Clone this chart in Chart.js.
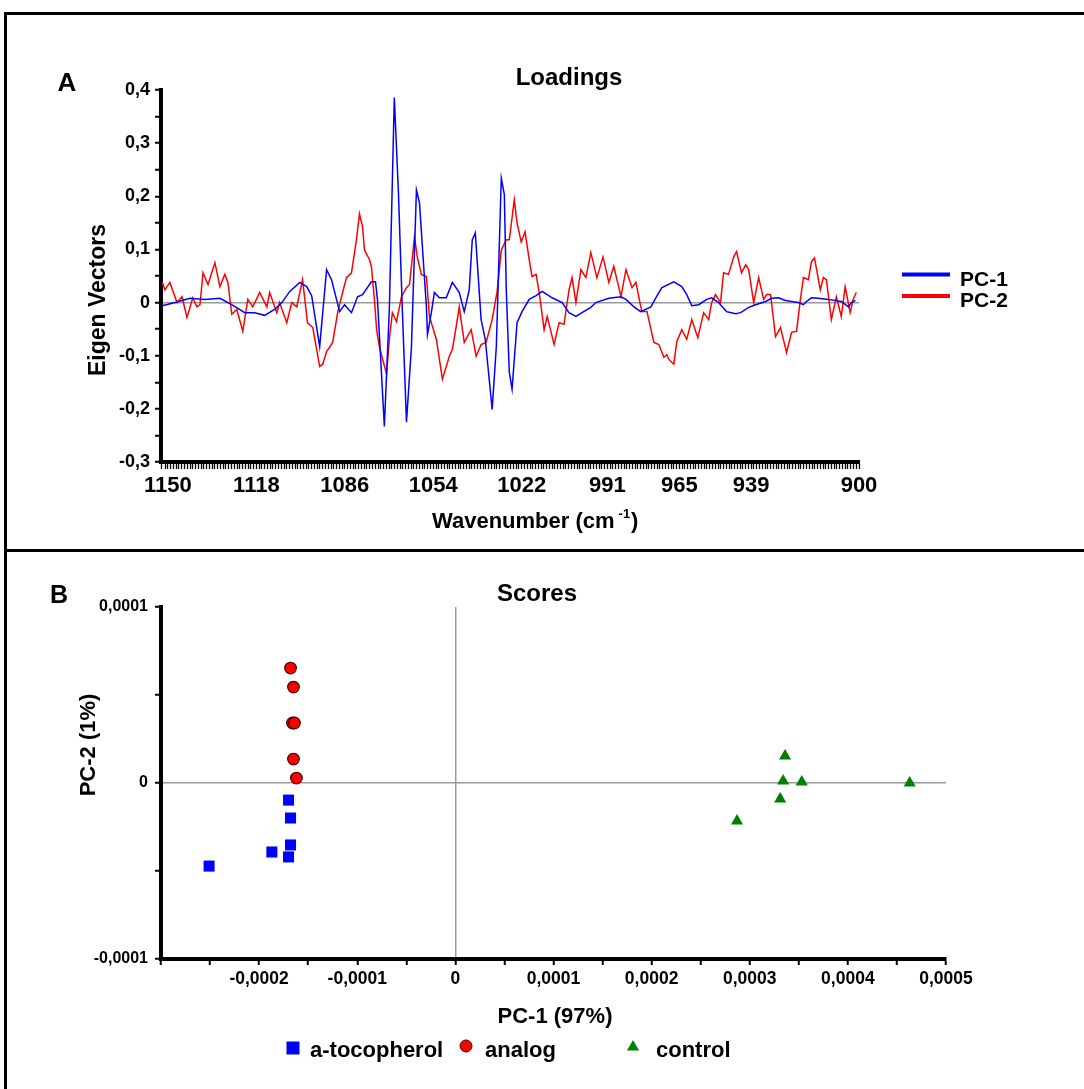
<!DOCTYPE html>
<html><head><meta charset="utf-8">
<script src="https://cdn.jsdelivr.net/npm/chart.js@4.4.1/dist/chart.umd.min.js"></script>
<style>
html,body{margin:0;padding:0;background:#fff;}
body{width:1084px;height:1089px;position:relative;overflow:hidden;}
canvas{position:absolute;left:0;top:0;}
.ln{position:absolute;background:#000;}
</style></head><body>
<canvas id="c1" width="1084" height="1089"></canvas>
<canvas id="c2" width="1084" height="1089"></canvas>
<div class="ln" style="left:4px;top:12px;width:1080px;height:3px"></div>
<div class="ln" style="left:4px;top:12px;width:3px;height:1077px"></div>
<div class="ln" style="left:4px;top:549px;width:1080px;height:3px"></div>
<script>
// ---------- Panel A: loadings ----------
const xTickLabels = [1150, 1118, 1086, 1054, 1022, 991, 965, 939, 900];
const pc1Wn = [1152.1,1147.4,1142.0,1136.6,1131.2,1126.9,1122.2,1118.6,1115.0,1111.4,1108.8,1105.9,1102.3,1099.8,1098.0,1095.1,1092.6,1090.8,1087.9,1086.1,1083.6,1081.4,1079.6,1076.4,1074.9,1074.2,1071.7,1069.9,1068.1,1066.6,1065.2,1063.7,1061.9,1060.1,1059.0,1056.5,1056.1,1054.7,1053.6,1051.8,1049.3,1047.1,1044.6,1042.8,1041.0,1039.9,1038.8,1036.7,1035.2,1032.7,1031.2,1029.4,1028.3,1027.6,1026.5,1025.5,1023.7,1021.9,1019.3,1016.8,1014.6,1011.0,1007.4,1004.9,1002.4,1000.2,997.0,995.2,990.5,986.1,984.3,981.4,979.0,975.3,973.5,971.3,967.0,964.1,962.3,960.5,958.0,955.1,953.3,950.8,947.9,944.6,942.8,939.9,937.4,933.8,931.6,929.1,926.6,924.4,921.9,920.1,919.0,917.2,914.7,911.1,906.4,903.8,902.8,901.3];
const pc1 = [-0.006,0,0.008,0.006,0.008,-0.004,-0.019,-0.019,-0.024,-0.013,0,0.021,0.038,0.030,0.013,-0.083,0.062,0.043,-0.017,-0.004,-0.019,0.011,0.015,0.039,0.039,0.006,-0.233,-0.013,0.386,0.206,-0.013,-0.225,-0.083,0.212,0.188,-0.008,-0.060,-0.019,0.019,0.009,0.009,0.038,0.019,-0.017,0.024,0.118,0.131,-0.032,-0.069,-0.201,-0.083,0.234,0.203,0.024,-0.131,-0.163,-0.038,-0.017,0.006,0.013,0.021,0.009,0,-0.019,-0.026,-0.019,-0.009,0,0.008,0.011,0.006,-0.008,-0.017,-0.008,0.009,0.028,0.039,0.030,0.015,-0.006,-0.004,0.006,0.009,0,-0.017,-0.021,-0.019,-0.009,-0.004,0.002,0.008,0.009,0.004,0.002,0,-0.004,0.002,0.009,0.008,0.006,0.002,-0.008,0,0.004];
const pc2Wn = [1152.1,1151.1,1149.3,1146.7,1144.9,1143.1,1141.0,1139.5,1138.4,1137.3,1135.5,1133.0,1131.2,1129.4,1128.3,1126.9,1125.1,1122.9,1121.1,1119.3,1116.8,1114.2,1113.2,1110.6,1109.6,1107.0,1105.2,1103.4,1101.3,1099.5,1097.6,1095.1,1094.0,1092.6,1091.5,1090.4,1088.6,1087.2,1085.4,1083.6,1081.8,1080.7,1079.6,1078.9,1077.1,1076.4,1075.3,1074.5,1073.5,1070.9,1069.9,1068.8,1067.3,1065.5,1063.7,1062.6,1060.8,1059.8,1058.3,1056.5,1055.4,1052.9,1050.7,1049.3,1048.2,1047.1,1045.7,1044.6,1042.8,1040.3,1038.5,1036.7,1034.9,1032.7,1030.9,1029.4,1027.6,1026.5,1024.7,1023.7,1022.2,1020.8,1019.3,1018.3,1016.8,1015.7,1013.9,1012.8,1010.3,1008.5,1006.7,1004.9,1003.8,1002.4,1000.6,998.8,997.0,994.8,992.6,990.5,988.7,986.1,984.3,982.1,980.7,978.6,976.7,974.2,972.4,970.6,969.5,968.8,967.0,965.9,964.1,962.3,960.5,958.3,956.2,954.4,953.3,951.9,950.1,949.0,947.2,945.3,944.3,942.5,941.0,939.9,938.1,936.3,934.5,933.4,932.0,930.2,928.4,926.2,924.4,922.6,921.2,920.1,918.3,917.2,916.1,914.0,912.9,911.8,910.0,908.2,906.4,905.0,903.2,902.1,901.0];
const pc2 = [0.039,0.024,0.038,0,0.011,-0.028,0.009,-0.008,-0.004,0.056,0.034,0.075,0.030,0.053,0.038,-0.022,-0.013,-0.054,0.006,-0.008,0.019,-0.008,0.019,-0.019,0,-0.038,0,-0.008,0.043,-0.038,-0.047,-0.120,-0.116,-0.092,-0.084,-0.075,-0.019,0.011,0.047,0.056,0.118,0.167,0.143,0.099,0.081,0.068,0.006,-0.051,-0.083,-0.135,-0.069,-0.019,-0.036,0.011,0.028,0.034,0.124,0.086,0.053,0.049,-0.026,-0.069,-0.144,-0.120,-0.101,-0.088,-0.045,-0.008,-0.075,-0.051,-0.101,-0.079,-0.075,-0.032,0.021,0.099,0.118,0.118,0.193,0.150,0.114,0.133,0.081,0.049,0.053,0.019,-0.051,-0.026,-0.079,-0.038,-0.041,0.024,0.047,0,0.062,0.047,0.094,0.047,0.086,0.038,0.068,0.011,0.062,0.028,0.038,-0.017,-0.017,-0.075,-0.079,-0.103,-0.098,-0.107,-0.116,-0.073,-0.051,-0.069,-0.032,-0.066,-0.019,-0.032,0,0.015,0,0.056,0.053,0.086,0.096,0.056,0.071,0.062,0,0.047,0.006,0.015,0.015,-0.064,-0.047,-0.094,-0.056,-0.054,0.006,0.047,0.043,0.077,0.084,0.024,0.047,0.043,-0.032,0.011,-0.026,0.030,-0.019,0.006,0.019];

// ---------- Panel B: scores ----------
const tocoX = [-0.000170, -0.000168, -0.000168, -0.000170, -0.000187, -0.000251];
const tocoY = [-0.0000097, -0.0000199, -0.0000352, -0.0000420, -0.0000392, -0.0000472];
const analogX = [-0.000168, -0.000165, -0.000166, -0.000164, -0.000165, -0.000162];
const analogY = [0.0000653, 0.0000545, 0.0000341, 0.0000341, 0.0000136, 0.0000028];
const controlX = [0.000336, 0.000334, 0.000353, 0.000331, 0.000287, 0.000463];
const controlY = [0.0000153, 0.0000011, 0.0000006, -0.0000091, -0.0000216, 0.0000000];

const FONT = "'Liberation Sans', Arial, sans-serif";
const bold = (s) => 'bold ' + s + 'px ' + FONT;
const fmt = (v, d) => Math.abs(v) < 1e-12 ? '0' : v.toFixed(d).replace('.', ',');
const pairs = (xs, ys) => xs.map((x, i) => ({x: x, y: ys[i]}));
const zeroGray = (c) => (c.tick && Math.abs(c.tick.value) < 1e-12) ? '#9a9a9a' : 'rgba(0,0,0,0)';

function txt(ctx, s, x, y, font, align, rot) {
  ctx.save();
  ctx.font = font; ctx.fillStyle = '#000';
  ctx.textAlign = align || 'left'; ctx.textBaseline = 'alphabetic';
  ctx.translate(x, y);
  if (rot) ctx.rotate(rot);
  ctx.fillText(s, 0, 0);
  ctx.restore();
}

const decorA = {
  id: 'decorA',
  afterDraw(chart) {
    const ctx = chart.ctx;
    txt(ctx, 'A', 67, 91, bold(26), 'center');
    txt(ctx, 'Loadings', 569, 85, bold(24), 'center');
    txt(ctx, 'Eigen Vectors', 105, 300, bold(23), 'center', -Math.PI / 2);
    // x-axis title with superscript
    ctx.save();
    ctx.fillStyle = '#000'; ctx.textBaseline = 'alphabetic'; ctx.textAlign = 'left';
    let x = 432; const y = 528;
    ctx.font = bold(22);
    const a = 'Wavenumber (cm';
    ctx.fillText(a, x, y); x += ctx.measureText(a).width + 4;
    ctx.font = bold(13);
    ctx.fillText('-1', x, y - 10); x += ctx.measureText('-1').width + 1;
    ctx.font = bold(22);
    ctx.fillText(')', x, y);
    ctx.restore();
    // legend
    const items = [['PC-1', '#0000ff', 274.5, 286], ['PC-2', '#ff0000', 296, 307]];
    items.forEach(([t, c, ly, ty]) => {
      ctx.save();
      ctx.strokeStyle = c; ctx.lineWidth = 4;
      ctx.beginPath(); ctx.moveTo(902, ly); ctx.lineTo(950, ly); ctx.stroke();
      ctx.restore();
      txt(ctx, t, 960, ty, bold(21), 'left');
    });
  }
};

new Chart(document.getElementById('c1'), {
  type: 'line',
  data: { datasets: [
    { label: 'PC-1', data: pairs(pc1Wn, pc1), borderColor: '#0000ff', borderWidth: 1.5, pointRadius: 0, tension: 0 },
    { label: 'PC-2', data: pairs(pc2Wn, pc2), borderColor: '#ff0000', borderWidth: 1.5, pointRadius: 0, tension: 0 }
  ]},
  options: {
    responsive: false, animation: false,
    layout: { padding: { left: 0, top: 90, right: 225, bottom: 557 } },
    plugins: { legend: { display: false }, tooltip: { enabled: false }, title: { display: false } },
    scales: {
      x: {
        type: 'linear', reverse: true, min: 900, max: 1152.5,
        afterFit(s) { s.height = 70; s.paddingLeft = 0; s.paddingRight = 0; },
        border: { color: '#000', width: 4 },
        grid: { drawOnChartArea: false, tickLength: 7, tickColor: '#000', tickWidth: 1.3 },
        ticks: { stepSize: 1, autoSkip: false, maxRotation: 0, minRotation: 0, padding: 4, color: '#000',
          font: { family: FONT, size: 22, weight: 'bold' },
          callback: (v) => xTickLabels.some(l => Math.abs(l - v) < 1e-6) ? String(Math.round(v)) : '' }
      },
      y: {
        min: -0.3, max: 0.4,
        afterFit(s) { s.width = 161; s.paddingTop = 0; s.paddingBottom = 0; },
        border: { color: '#000', width: 4 },
        grid: { color: zeroGray, lineWidth: 1.5, tickLength: 6, tickColor: '#000', tickWidth: 2 },
        ticks: { stepSize: 0.05, autoSkip: false, padding: 5, color: '#000',
          font: { family: FONT, size: 18, weight: 'bold' },
          callback: (v) => Math.abs(v * 10 - Math.round(v * 10)) < 1e-6 ? fmt(v, 1) : '' }
      }
    }
  },
  plugins: [decorA]
});

const decorB = {
  id: 'decorB',
  afterDraw(chart) {
    const ctx = chart.ctx;
    txt(ctx, 'B', 59, 603, bold(25), 'center');
    txt(ctx, 'Scores', 537, 601, bold(24), 'center');
    txt(ctx, 'PC-2 (1%)', 95, 745, bold(22), 'center', -Math.PI / 2);
    txt(ctx, 'PC-1 (97%)', 555, 1023, bold(22), 'center');
    const H = Chart.helpers;
    const leg = [
      ['a-tocopherol', 'rect', 9.2, '#0000ff', null, 293, 1048, 310],
      ['analog', 'circle', 6, '#ff0000', '#400000', 466, 1046, 485],
      ['control', 'triangle', 7, '#008000', null, 633, 1047, 656]
    ];
    leg.forEach(([t, ps, r, fill, stroke, px, py, tx]) => {
      ctx.save();
      ctx.fillStyle = fill; ctx.strokeStyle = stroke || fill;
      H.drawPoint(ctx, { pointStyle: ps, radius: r, rotation: 0, borderWidth: stroke ? 1 : 0 }, px, py);
      ctx.restore();
      txt(ctx, t, tx, 1057, bold(22), 'left');
    });
  }
};

new Chart(document.getElementById('c2'), {
  type: 'scatter',
  data: { datasets: [
    { label: 'a-tocopherol', data: pairs(tocoX, tocoY), pointStyle: 'rect', pointRadius: 7.8, backgroundColor: '#0000ff', borderColor: '#0000ff', borderWidth: 0 },
    { label: 'analog', data: pairs(analogX, analogY), pointStyle: 'circle', pointRadius: 5.8, backgroundColor: '#ff0000', borderColor: '#400000', borderWidth: 1.2 },
    { label: 'control', data: pairs(controlX, controlY), pointStyle: 'triangle', pointRadius: 7, backgroundColor: '#008000', borderColor: '#008000', borderWidth: 0 }
  ]},
  options: {
    responsive: false, animation: false,
    layout: { padding: { left: 0, top: 607, right: 138, bottom: 50 } },
    plugins: { legend: { display: false }, tooltip: { enabled: false }, title: { display: false } },
    scales: {
      x: {
        type: 'linear', min: -0.0003, max: 0.0005,
        afterFit(s) { s.height = 80; s.paddingLeft = 0; s.paddingRight = 0; },
        border: { color: '#000', width: 4 },
        grid: { color: zeroGray, lineWidth: 1.5, tickLength: 6, tickColor: '#000', tickWidth: 2 },
        ticks: { stepSize: 0.00005, autoSkip: false, maxRotation: 0, minRotation: 0, padding: 4, color: '#000',
          font: { family: FONT, size: 17.5, weight: 'bold' },
          callback: (v) => (Math.abs(v * 1e4 - Math.round(v * 1e4)) < 1e-6 && Math.round(v * 1e4) !== -3) ? fmt(v, 4) : '' }
      },
      y: {
        min: -0.0001, max: 0.0001,
        afterFit(s) { s.width = 161; s.paddingTop = 0; s.paddingBottom = 0; },
        border: { color: '#000', width: 4 },
        grid: { color: zeroGray, lineWidth: 1.5, tickLength: 6, tickColor: '#000', tickWidth: 2 },
        ticks: { stepSize: 0.00005, autoSkip: false, padding: 7, color: '#000',
          font: { family: FONT, size: 16, weight: 'bold' },
          callback: (v) => Math.abs(v * 1e4 - Math.round(v * 1e4)) < 1e-6 ? fmt(v, 4) : '' }
      }
    }
  },
  plugins: [decorB]
});
</script></body></html>
